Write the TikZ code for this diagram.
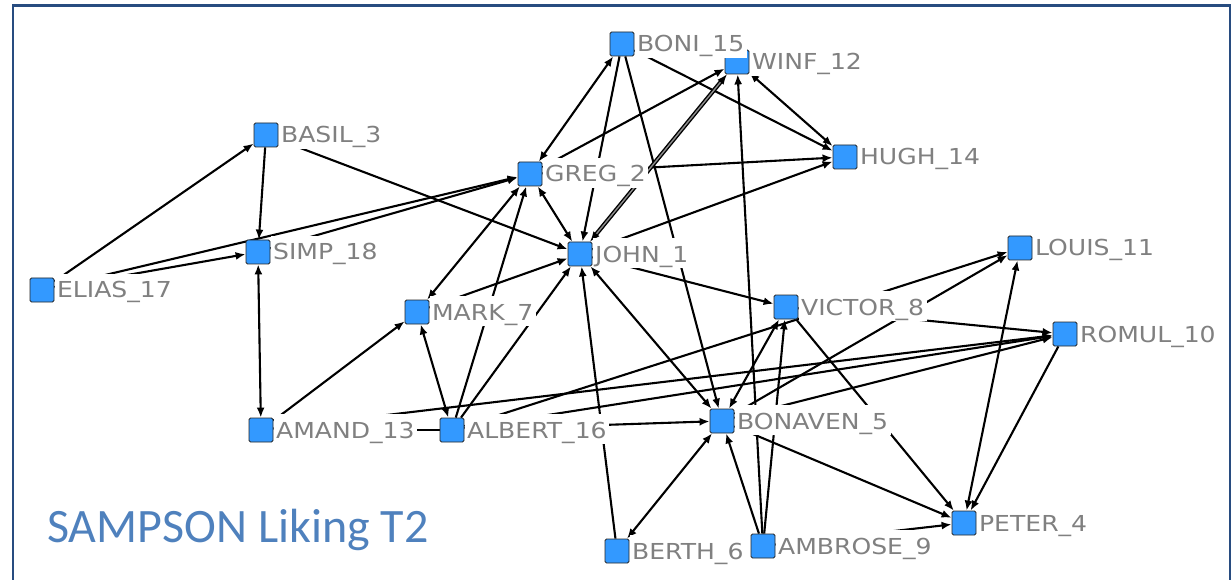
\documentclass[tikz,border=0pt]{standalone}
\usepackage{fontspec}
\newfontfamily\lblfont[FakeStretch=1.14]{DejaVu Sans}
\newfontfamily\ttlfont{Carlito}
\usetikzlibrary{arrows.meta}
\pgfdeclarelayer{edges}
\pgfsetlayers{edges,main}
\definecolor{monkblue}{RGB}{51,153,255}
\definecolor{framecol}{RGB}{40,76,128}
\definecolor{titlecol}{RGB}{79,129,189}

\begin{document}
\begin{tikzpicture}[x=1pt,y=-1pt,
    monk/.style={draw=black!85,line width=0.8pt,fill=monkblue,minimum size=24pt,
      inner sep=0pt,rounded corners=1.5pt},
    lbl/.style={anchor=base west,fill=white,text=black!50,inner xsep=2.5pt,inner ysep=0pt,
      text height=24pt,text depth=6pt,font={\lblfont\fontsize{22}{26}\selectfont}},
    liketo/.style={line width=2.1pt,-{Latex[length=10pt,width=8pt]}},
    likeboth/.style={line width=2.1pt,{Latex[length=10pt,width=8pt]}-{Latex[length=10pt,width=8pt]}}]
  \useasboundingbox (0,0) rectangle (1232,580);
  \draw[framecol,line width=2.5pt] (13,580) -- (13,5.5) -- (1230,5.5) -- (1230,580);

  \node[monk] (john) at (580,254) {};
  \node[monk] (greg) at (530,174) {};
  \node[monk] (basil) at (266,135) {};
  \node[monk] (peter) at (964,523) {};
  \node[monk] (bonaven) at (722,421) {};
  \node[monk] (berth) at (617,551) {};
  \node[monk] (mark) at (417,312) {};
  \node[monk] (victor) at (786,307) {};
  \node[monk] (ambrose) at (763,546) {};
  \node[monk] (romul) at (1065,334) {};
  \node[monk] (louis) at (1020,248) {};
  \node[monk] (winf) at (737,62) {};
  \node[monk] (amand) at (261,430) {};
  \node[monk] (hugh) at (845,157) {};
  \node[monk] (boni) at (622,44) {};
  \node[monk] (albert) at (452,430) {};
  \node[monk] (elias) at (42,290) {};
  \node[monk] (simp) at (258,252) {};

  \begin{pgfonlayer}{edges}
    \foreach \a/\b in {elias/basil,elias/greg,basil/simp,simp/greg,amand/mark,albert/amand,
        amand/romul,mark/john,albert/greg,albert/john,albert/romul,albert/louis,berth/john,
        greg/winf,greg/hugh,john/hugh,john/victor,boni/john,boni/hugh,boni/bonaven,
        ambrose/winf,ambrose/victor,ambrose/bonaven,ambrose/peter,bonaven/romul,
        bonaven/louis,bonaven/peter,victor/romul,victor/peter,romul/peter}
      \draw[liketo] (\a) -- (\b);
    \foreach \a/\b in {elias/simp,basil/john,simp/amand,mark/albert,greg/mark,albert/bonaven,
        berth/bonaven,greg/john,boni/greg,john/bonaven,hugh/winf,bonaven/victor,louis/peter}
      \draw[likeboth] (\a) -- (\b);
    \draw[likeboth,line width=1.4pt,double=black!45,double distance=1.4pt] (john) -- (winf);
  \end{pgfonlayer}

  \node[lbl] (johnT) at ([yshift=-8pt]john.east) {JOHN\_1};
  \node[lbl] (gregT) at ([yshift=-8pt]greg.east) {GREG\_2};
  \node[lbl] (basilT) at ([yshift=-8pt]basil.east) {BASIL\_3};
  \node[lbl] (peterT) at ([yshift=-8pt]peter.east) {PETER\_4};
  \node[lbl] (bonavenT) at ([yshift=-8pt]bonaven.east) {BONAVEN\_5};
  \node[lbl] (berthT) at ([yshift=-8pt]berth.east) {BERTH\_6};
  \node[lbl] (markT) at ([yshift=-8pt]mark.east) {MARK\_7};
  \node[lbl] (victorT) at ([yshift=-8pt]victor.east) {VICTOR\_8};
  \node[lbl] (ambroseT) at ([yshift=-8pt]ambrose.east) {AMBROSE\_9};
  \node[lbl] (romulT) at ([yshift=-8pt]romul.east) {ROMUL\_10};
  \node[lbl] (louisT) at ([yshift=-8pt]louis.east) {LOUIS\_11};
  \node[lbl] (winfT) at ([yshift=-8pt]winf.east) {WINF\_12};
  \node[lbl] (amandT) at ([yshift=-8pt]amand.east) {AMAND\_13};
  \node[lbl] (hughT) at ([yshift=-8pt]hugh.east) {HUGH\_14};
  \node[lbl] (boniT) at ([yshift=-8pt]boni.east) {BONI\_15};
  \node[lbl] (albertT) at ([yshift=-8pt]albert.east) {ALBERT\_16};
  \node[lbl] (eliasT) at ([yshift=-8pt]elias.east) {ELIAS\_17};
  \node[lbl] (simpT) at ([yshift=-8pt]simp.east) {SIMP\_18};

  \node[anchor=base west,inner sep=0pt,text=titlecol,font={\ttlfont\fontsize{48}{56}\selectfont}]
    (title) at (47,542) {SAMPSON Liking T2};
\end{tikzpicture}
\end{document}
